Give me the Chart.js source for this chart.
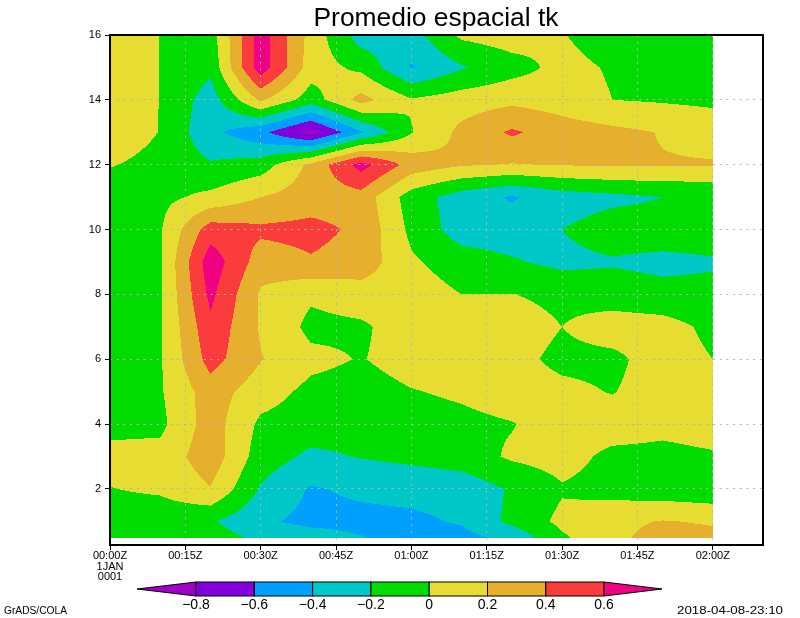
<!DOCTYPE html>
<html>
<head>
<meta charset="utf-8">
<script src="https://cdn.jsdelivr.net/npm/chart.js@4.4.1/dist/chart.umd.min.js"></script>
<style>
html,body{margin:0;padding:0;background:#fff}
#wrap{width:800px;height:618px}
</style>
</head>
<body>
<div id="wrap"><canvas id="c" width="800" height="618"></canvas></div>
<script>
// time axis in minutes since 00:00Z, one column every 10 min
const times=[0,10,20,30,40,50,60,70,80,90,100,110,120];
// vertical levels (rows, bottom to top)
const levels=[0.5,1,2,3,4,5,6,7,8,9,10,11,12,13,14,15,16];
// tk anomaly, one row per level (same order as levels)
const tk=[
  [-0.1,-0.1,-0.1,-0.25,-0.3,-0.39,-0.48,-0.46,-0.35,-0.03,0.15,0.28,0.25],
  [-0.1,-0.12,-0.18,-0.36,-0.46,-0.46,-0.44,-0.38,-0.15,0.05,0.15,0.21,0.18],
  [-0.005,0.03,0.19,-0.22,-0.42,-0.36,-0.34,-0.32,-0.18,-0.02,-0.08,-0.12,-0.15],
  [0.06,0.07,0.32,-0.1,-0.24,-0.19,-0.15,-0.1,0.03,0.08,-0.05,-0.05,-0.02],
  [-0.06,-0.05,0.3,-0.04,-0.1,-0.12,-0.08,-0.05,-0.01,0.1,0.1,0.05,0.08],
  [-0.1,-0.02,0.3,0.09,-0.05,-0.08,-0.01,0.03,0.1,0.05,-0.01,0.1,0.1],
  [-0.1,-0.02,0.48,0.21,0.05,-0.01,0.08,0.1,0.06,-0.05,-0.05,0.1,0.0],
  [-0.1,-0.02,0.55,0.18,-0.05,-0.03,0.1,0.1,0.1,0.0,0.1,0.08,-0.05],
  [-0.1,-0.02,0.65,0.17,0.03,0.1,0.1,0.0,0.005,-0.05,-0.1,-0.14,-0.15],
  [-0.1,-0.02,0.72,0.3,0.38,0.32,0.03,-0.1,-0.18,-0.25,-0.22,-0.25,-0.22],
  [-0.1,-0.02,0.5,0.44,0.46,0.36,-0.05,-0.3,-0.3,-0.2,-0.1,-0.1,-0.1],
  [-0.1,-0.05,0.05,0.2,0.3,0.32,-0.1,-0.3,-0.42,-0.3,-0.25,-0.2,-0.19],
  [0.01,-0.05,-0.18,-0.1,0.25,0.68,0.32,0.22,0.19,0.21,0.22,0.21,0.21],
  [0.1,-0.005,-0.35,-0.55,-0.88,-0.42,-0.01,0.25,0.43,0.3,0.25,0.19,0.15],
  [0.1,-0.003,-0.3,0.23,-0.1,0.27,0.02,0.1,0.15,0.1,0.0,-0.02,-0.05],
  [0.1,-0.002,-0.15,0.72,0.1,-0.05,-0.42,-0.22,-0.08,0.06,-0.02,-0.1,-0.1],
  [0.1,-0.002,-0.1,0.7,0.13,-0.3,-0.28,0.04,0.1,0.01,-0.1,-0.1,-0.1]
];
const xTicks=[0,15,30,45,60,75,90,105,120];
const xLabels=["00:00Z","00:15Z","00:30Z","00:45Z","01:00Z","01:15Z","01:30Z","01:45Z","02:00Z"];
const yTicks=[2,4,6,8,10,12,14,16];
const clevs=[-0.8,-0.6,-0.4,-0.2,0,0.2,0.4,0.6];
const ccols=["#a000c8","#8200dc","#00a0ff","#00c8c8","#00dc00","#e6dc32","#e6af2d","#fa3c3c","#f00082"];

function bin(v){
    let i=0;
    while(i<clevs.length&&v>=clevs[i])i++;
    return i;
}
function rgb(h){return [parseInt(h.slice(1,3),16),parseInt(h.slice(3,5),16),parseInt(h.slice(5,7),16)];}
function seg(arr,v){
    for(let i=0;i<arr.length-2;i++) if(v<=arr[i+1]) return i;
    return arr.length-2;
}

// shaded contours: each pixel gets the bilinear value of its grid cell
const shade={
    id:"shade",
    beforeDatasetsDraw(chart){
        const ctx=chart.ctx, xs=chart.scales.x, ys=chart.scales.y;
        const x0=Math.round(xs.getPixelForValue(times[0])), x1=Math.round(xs.getPixelForValue(times[times.length-1]));
        const y0=Math.round(ys.getPixelForValue(levels[levels.length-1])), y1=Math.round(ys.getPixelForValue(levels[0]));
        const w=x1-x0, h=y1-y0;
        const img=ctx.createImageData(w,h);
        const pal=ccols.map(rgb);
        const cols=[];
        for(let i=0;i<w;i++){
            const t=xs.getValueForPixel(x0+i+0.5);
            const j=seg(times,t);
            cols.push([j,Math.max(0,Math.min(1,(t-times[j])/(times[j+1]-times[j])))]);
        }
        for(let r=0;r<h;r++){
            const L=ys.getValueForPixel(y0+r+0.5);
            const k=seg(levels,L);
            const fy=Math.max(0,Math.min(1,(L-levels[k])/(levels[k+1]-levels[k])));
            const lo=tk[k], hi=tk[k+1];
            for(let i=0;i<w;i++){
                const j=cols[i][0], fx=cols[i][1];
                const v=(lo[j]*(1-fx)+lo[j+1]*fx)*(1-fy)+(hi[j]*(1-fx)+hi[j+1]*fx)*fy;
                const c=pal[bin(v)];
                const p=(r*w+i)*4;
                img.data[p]=c[0];img.data[p+1]=c[1];img.data[p+2]=c[2];img.data[p+3]=255;
            }
        }
        ctx.putImageData(img,x0,y0);
    }
};

function text(ctx,s,x,y,size,w,align){
    ctx.save();
    ctx.font=size+'px "Liberation Sans"';
    const m=ctx.measureText(s).width;
    ctx.translate(x,y);
    if(w)ctx.scale(w/m,1);
    ctx.textAlign=align;
    ctx.textBaseline="alphabetic";
    ctx.fillStyle="#000";
    ctx.fillText(s,0,0);
    ctx.restore();
}

const decor={
    id:"decor",
    afterDraw(chart){
        const ctx=chart.ctx, a=chart.chartArea;
        ctx.save();
        ctx.strokeStyle="#000";ctx.lineWidth=2;
        ctx.strokeRect(a.left,a.top,a.right-a.left,a.bottom-a.top);
        ctx.restore();

        text(ctx,"Promedio espacial tk",436,26,26,245,"center");
        text(ctx,"GrADS/COLA",4,614,10,63,"left");
        text(ctx,"2018-04-08-23:10",677,614,10,106,"left");

        // colour bar
        const bx0=196, step=58.3, top=582, bot=596, mid=589;
        const bx1=bx0+step*(clevs.length-1);
        ctx.save();
        ctx.strokeStyle="#000";ctx.lineWidth=1;
        ctx.beginPath();ctx.moveTo(bx0,top);ctx.lineTo(137,mid);ctx.lineTo(bx0,bot);ctx.closePath();
        ctx.fillStyle=ccols[0];ctx.fill();ctx.stroke();
        for(let i=0;i<clevs.length-1;i++){
            ctx.fillStyle=ccols[i+1];
            ctx.fillRect(bx0+i*step,top,step,bot-top);
            ctx.strokeRect(bx0+i*step,top,step,bot-top);
        }
        ctx.beginPath();ctx.moveTo(bx1,top);ctx.lineTo(662,mid);ctx.lineTo(bx1,bot);ctx.closePath();
        ctx.fillStyle=ccols[ccols.length-1];ctx.fill();ctx.stroke();
        ctx.restore();
        clevs.forEach((v,i)=>{
            const s=v<0?"\u2212"+Math.abs(v).toString():v.toString();
            text(ctx,s,bx0+i*step,609,14,0,"center");
        });
    }
};

const points=[];
levels.forEach(L=>times.forEach(t=>points.push({x:t,y:L})));

const dotted=[2,4.7];
new Chart(document.getElementById("c"),{
    type:"scatter",
    data:{datasets:[{data:points,pointRadius:0,pointHoverRadius:0}]},
    options:{
        responsive:false,
        devicePixelRatio:1,
        animation:false,
        events:[],
        layout:{padding:{top:35,right:37,left:0,bottom:0}},
        plugins:{legend:{display:false},title:{display:false},tooltip:{enabled:false}},
        scales:{
            x:{
                type:"linear",min:0,max:130,
                afterBuildTicks:s=>{s.ticks=xTicks.map(v=>({value:v}));},
                afterFit:s=>{s.height=73;},
                grid:{z:1,color:c=>c.tick&&c.tick.value===0?"rgba(0,0,0,0)":"#b4b4b4",
                      tickBorderDash:[],tickColor:"#000",tickLength:5,tickWidth:1,lineWidth:1},
                border:{display:false,dash:dotted,z:1},
                ticks:{z:1,autoSkip:false,maxRotation:0,padding:1,color:"#000",
                       font:{family:"Liberation Sans",size:11,lineHeight:0.95},
                       callback:v=>{const i=xTicks.indexOf(v);return i===0?[xLabels[0],"1JAN","0001"]:xLabels[i];}}
            },
            y:{
                type:"linear",min:0.273,max:16,
                afterBuildTicks:s=>{s.ticks=yTicks.map(v=>({value:v}));},
                afterFit:s=>{s.width=110;},
                grid:{z:1,color:c=>c.tick&&c.tick.value===16?"rgba(0,0,0,0)":"#b4b4b4",
                      tickBorderDash:[],tickColor:"#000",tickLength:5,tickWidth:1,lineWidth:1},
                border:{display:false,dash:dotted,z:1},
                ticks:{z:1,padding:4,color:"#000",font:{family:"Liberation Sans",size:11},
                       callback:v=>String(v)}
            }
        }
    },
    plugins:[shade,decor]
});
</script>
</body>
</html>
